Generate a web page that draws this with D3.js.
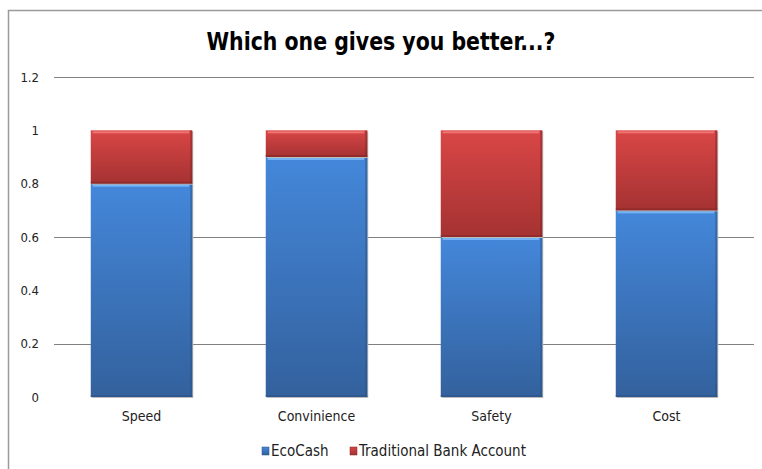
<!DOCTYPE html>
<html>
<head>
<meta charset="utf-8">
<script src="https://cdn.jsdelivr.net/npm/d3@7"></script>
<style>
  body { margin: 0; background: #fff; }
  text { font-family: "Liberation Sans Narrow", "DejaVu Sans Condensed", sans-serif; fill: #222; }
</style>
</head>
<body>
<div id="chart"></div>
<script>
// 資料
var categories = ['Speed', 'Convinience', 'Safety', 'Cost'];
var ecoCash = [0.8, 0.9, 0.6, 0.7];
var bankAccount = [0.2, 0.1, 0.4, 0.3];
var seriesNames = ['EcoCash', 'Traditional Bank Account'];
var yTicks = [0, 0.2, 0.4, 0.6, 0.8, 1, 1.2];
var gridTicks = [0.2, 0.6, 1.2]; // 原圖只看得到這幾條

const width = 762, height = 469;
const margin = {top: 77, right: 8, bottom: 72, left: 54};
const fontStack = '"Liberation Sans Narrow", "DejaVu Sans Condensed", sans-serif';

var svg = d3.select('#chart').append('svg')
  .attr('width', width)
  .attr('height', height);

// 漸層
var defs = svg.append('defs');
function grad(id, c1, c2) {
  var g = defs.append('linearGradient').attr('id', id)
    .attr('x1', 0).attr('y1', 0).attr('x2', 0).attr('y2', 1);
  g.append('stop').attr('offset', '0%').attr('stop-color', c1);
  g.append('stop').attr('offset', '100%').attr('stop-color', c2);
}
grad('gBlue', '#4487da', '#33619d');
grad('gRed', '#d94646', '#a53232');

// 外框
svg.append('path')
  .attr('d', `M8.5,${height} L8.5,10.5 L${width},10.5`)
  .attr('fill', 'none')
  .attr('stroke', '#9a9a9a')
  .attr('stroke-width', 1.5);

// 標題
svg.append('text')
  .attr('x', 381)
  .attr('y', 50)
  .attr('text-anchor', 'middle')
  .attr('textLength', 349)
  .attr('lengthAdjust', 'spacingAndGlyphs')
  .style('font-size', '24px')
  .style('font-weight', 'bold')
  .style('fill', '#000')
  .text('Which one gives you better...?');

var x = d3.scaleBand()
  .domain(categories)
  .range([margin.left, width - margin.right])
  .paddingInner(0.42)
  .paddingOuter(0.21);

var y = d3.scaleLinear()
  .domain([0, 1.2])
  .range([height - margin.bottom, margin.top]);

// 格線
svg.append('g')
  .selectAll('line')
  .data(gridTicks)
  .join('line')
  .attr('x1', margin.left)
  .attr('x2', width - margin.right)
  .attr('y1', d => Math.round(y(d)) + 0.5)
  .attr('y2', d => Math.round(y(d)) + 0.5)
  .attr('stroke', '#808080')
  .attr('stroke-width', 1);

// Y軸
var yAxis = d3.axisLeft(y).tickValues(yTicks).tickSize(0).tickPadding(15)
  .tickFormat(d => d3.format('')(+d.toFixed(1)));
svg.append('g')
  .attr('transform', `translate(${margin.left},0)`)
  .call(yAxis)
  .call(g => g.select('.domain').remove())
  .selectAll('text')
  .style('font-size', '13px')
  .style('font-family', fontStack)
  .style('fill', '#222');

// stacked
var rows = categories.map((c, i) => ({cat: c, eco: ecoCash[i], bank: bankAccount[i]}));
var stack = d3.stack().keys(['eco', 'bank'])(rows);
var fills = ['url(#gBlue)', 'url(#gRed)'];
var hiCol = ['#74b4f4', '#f07474'];
var edgeCol = ['#2a4f82', '#7e2424'];

stack.forEach(function(layer, li) {
  var g = svg.append('g');
  // 陰影
  g.selectAll('rect.shadow')
    .data(layer)
    .join('rect')
    .attr('class', 'shadow')
    .attr('x', d => x(d.data.cat) + 1)
    .attr('y', d => y(d[1]) + 1)
    .attr('width', x.bandwidth())
    .attr('height', d => y(d[0]) - y(d[1]))
    .attr('fill', '#bbb');
  g.selectAll('rect.bar')
    .data(layer)
    .join('rect')
    .attr('class', 'bar')
    .attr('x', d => x(d.data.cat))
    .attr('y', d => y(d[1]))
    .attr('width', x.bandwidth())
    .attr('height', d => y(d[0]) - y(d[1]))
    .attr('fill', fills[li]);
  // 右側暗邊
  g.selectAll('rect.edge')
    .data(layer)
    .join('rect')
    .attr('class', 'edge')
    .attr('x', d => x(d.data.cat) + x.bandwidth() - 2)
    .attr('y', d => y(d[1]))
    .attr('width', 2)
    .attr('height', d => y(d[0]) - y(d[1]))
    .attr('fill', edgeCol[li])
    .attr('opacity', 0.5);
  // 上方亮邊
  g.selectAll('rect.hi')
    .data(layer)
    .join('rect')
    .attr('class', 'hi')
    .attr('x', d => x(d.data.cat) + 2)
    .attr('y', d => y(d[1]) + 1)
    .attr('width', x.bandwidth() - 5)
    .attr('height', 2)
    .attr('fill', hiCol[li]);
  // 下方暗邊
  g.selectAll('rect.lo')
    .data(layer)
    .join('rect')
    .attr('class', 'lo')
    .attr('x', d => x(d.data.cat))
    .attr('y', d => y(d[0]) - 2)
    .attr('width', x.bandwidth())
    .attr('height', 2)
    .attr('fill', edgeCol[li])
    .attr('opacity', 0.5);
});

// X軸文字
var xAxis = d3.axisBottom(x).tickSize(0).tickPadding(14);
svg.append('g')
  .attr('transform', `translate(0,${y(0)})`)
  .call(xAxis)
  .call(g => g.select('.domain').remove())
  .selectAll('text')
  .style('font-size', '14px')
  .style('font-family', fontStack)
  .style('fill', '#222');

// 圖例
var legendX = [262, 350];
var legend = svg.append('g');
seriesNames.forEach(function(name, i) {
  legend.append('rect')
    .attr('x', legendX[i])
    .attr('y', 447)
    .attr('width', 7)
    .attr('height', 8)
    .attr('fill', fills[i])
    .attr('stroke', edgeCol[i])
    .attr('stroke-width', 0.5);
  legend.append('text')
    .attr('x', legendX[i] + 9)
    .attr('y', 456)
    .style('font-size', '15px')
    .text(name);
});
</script>
</body>
</html>
